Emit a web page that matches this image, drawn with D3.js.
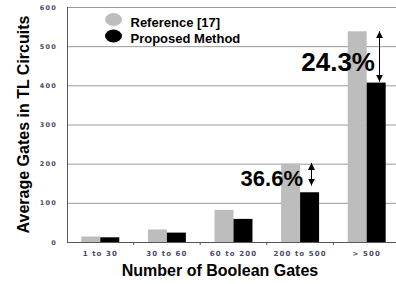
<!DOCTYPE html>
<html>
<head>
<meta charset="utf-8">
<script src="https://cdn.jsdelivr.net/npm/d3@7"></script>
<style>
	body { margin: 0; background: #fff; }
	svg { display: block; font-family: 'Liberation Sans', Arial, sans-serif; }
</style>
</head>
<body>
<svg id="main-vis" width="396" height="284"></svg>
<script>
// DATA
const categories = ['1 to 30', '30 to 60', '60 to 200', '200 to 500', '> 500']
const series = ['Reference [17]', 'Proposed Method']
const reference = [14, 32, 82, 200, 538]
const proposed = [12, 24, 59, 127, 407]
const yticks = [0, 100, 200, 300, 400, 500, 600]
const notes = ['36.6%', '24.3%']

const colors = { 'Reference [17]': '#bdbdbd', 'Proposed Method': '#000' }
const rows = categories.map((c, i) => ({ cat: c, 'Reference [17]': reference[i], 'Proposed Method': proposed[i] }))

const svg = d3.select('svg#main-vis')
const pl = 67, pr = 400, pt = 7, pb = 242

const x = d3.scaleBand().domain(categories).range([pl, pr])
const xs = d3.scaleBand().domain(series).range([0, x.bandwidth()]).paddingInner(0).paddingOuter(0.755)
const y = d3.scaleLinear().domain([0, 600]).range([pb, pt])

// GRID
svg.append('g').selectAll('line')
	.data(yticks.filter(d => d > 0))
	.join('line')
	.attr('x1', pl).attr('x2', 396)
	.attr('y1', d => y(d) + 0.5).attr('y2', d => y(d) + 0.5)
	.attr('stroke', '#9a9a9a').attr('stroke-width', 1)

// Y LABELS
svg.append('g').selectAll('text')
	.data(yticks)
	.join('text')
	.attr('x', 57).attr('y', d => y(d) + 2.5)
	.attr('text-anchor', 'end')
	.style('font-family', "'DejaVu Sans', sans-serif")
	.style('font-size', '6.5px')
	.style('letter-spacing', '1.2px')
	.style('font-weight', 'bold')
	.attr('fill', '#4a4a66')
	.text(d => d)

// BARS
svg.append('g').selectAll('g')
	.data(rows)
	.join('g')
	.attr('transform', d => `translate(${x(d.cat)},0)`)
	.selectAll('rect')
	.data(d => series.map(s => ({ key: s, value: d[s] })))
	.join('rect')
	.attr('x', d => xs(d.key))
	.attr('width', xs.bandwidth())
	.attr('y', d => y(d.value))
	.attr('height', d => y(0) - y(d.value))
	.attr('fill', d => colors[d.key])

// AXES LINES
svg.append('line')
	.attr('x1', pl + 0.5).attr('x2', pl + 0.5)
	.attr('y1', pt).attr('y2', pb + 1)
	.attr('stroke', '#555')
const xaxis = svg.append('g').attr('transform', `translate(0,${pb})`)
	.call(d3.axisBottom(x).tickSize(0).tickPadding(9))
xaxis.select('.domain').attr('stroke', '#555').attr('d', `M${pl},0.5H${pr}`)
xaxis.selectAll('text')
	.style('font-family', "'DejaVu Sans', sans-serif")
	.style('font-size', '7px')
	.style('letter-spacing', '1.1px')
	.style('font-weight', 'bold')
	.attr('fill', '#4a4a66')
xaxis.selectAll('line.bound')
	.data(categories.slice(1))
	.join('line')
	.attr('class', 'bound')
	.attr('x1', d => x(d)).attr('x2', d => x(d))
	.attr('y1', 0).attr('y2', 3)
	.attr('stroke', '#555')

// LEGEND
const legend = svg.append('g')
series.forEach((s, i) => {
	legend.append('ellipse')
		.attr('cx', 113.5).attr('cy', 19.5 + i * 16.5)
		.attr('rx', 8.5).attr('ry', 6.5)
		.attr('fill', colors[s])
	legend.append('text')
		.attr('x', 130.5).attr('y', 26.5 + i * 16)
		.style('font-size', '13px').style('font-weight', 'bold')
		.text(s)
})

// ARROWS + ANNOTATIONS
const defs = svg.append('defs')
defs.append('marker')
	.attr('id', 'head')
	.attr('viewBox', '0 0 10 10')
	.attr('refX', 10).attr('refY', 5)
	.attr('markerWidth', 7).attr('markerHeight', 7)
	.attr('markerUnits', 'userSpaceOnUse')
	.attr('orient', 'auto-start-reverse')
	.append('path').attr('d', 'M0,0L10,5L0,10Z').attr('fill', '#000')

const arrows = [
	{ x: 311.5, v1: 202, v2: 144, size: 22, tx: 303, ty: 186 },
	{ x: 379.5, v1: 538, v2: 409, size: 26, tx: 375, ty: 70.5 }
]
arrows.forEach((a, i) => {
	svg.append('line')
		.attr('x1', a.x).attr('x2', a.x)
		.attr('y1', y(a.v1)).attr('y2', y(a.v2))
		.attr('stroke', '#000').attr('stroke-width', 1)
		.attr('marker-start', 'url(#head)')
		.attr('marker-end', 'url(#head)')
	svg.append('text')
		.attr('x', a.tx).attr('y', a.ty)
		.attr('text-anchor', 'end')
		.style('font-size', `${a.size}px`).style('font-weight', 'bold')
		.text(notes[i])
})

// TITLES
svg.append('text')
	.attr('transform', `translate(29,${(pt + pb) / 2}) rotate(-90)`)
	.attr('text-anchor', 'middle')
	.style('font-size', '16px').style('font-weight', 'bold')
	.text('Average Gates in TL Circuits')
svg.append('text')
	.attr('x', 220).attr('y', 276)
	.attr('text-anchor', 'middle')
	.style('font-size', '16px').style('font-weight', 'bold')
	.text('Number of Boolean Gates')
</script>
</body>
</html>
